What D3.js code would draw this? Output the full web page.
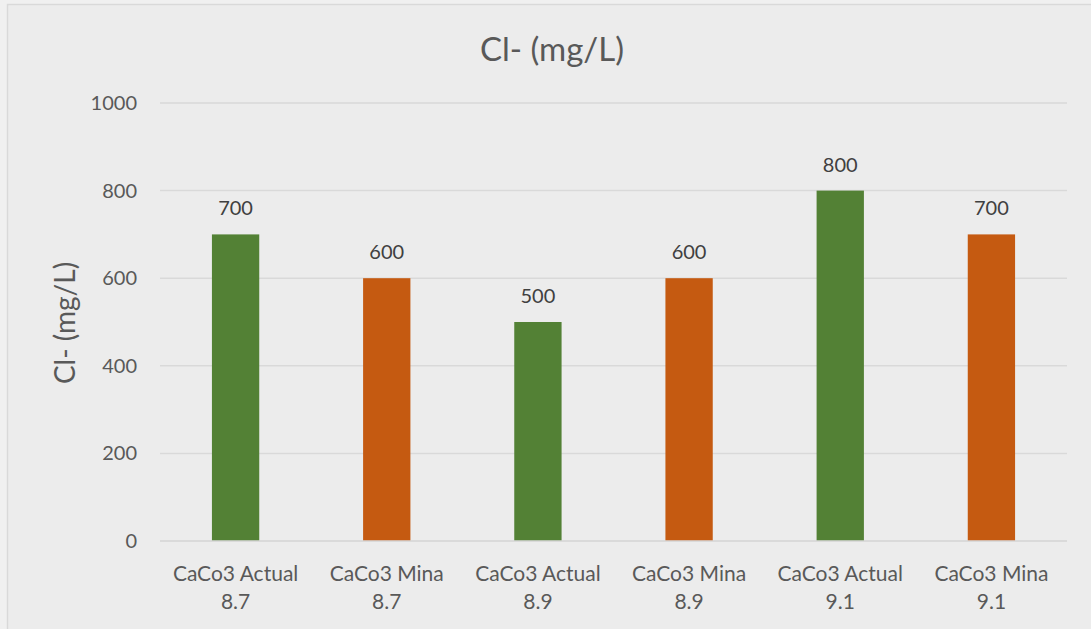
<!DOCTYPE html>
<html><head><meta charset="utf-8">
<script src="https://cdn.jsdelivr.net/npm/d3@7"></script>
<style>
html,body{margin:0;padding:0;background:#f0f0f0;}
svg{display:block;font-family:Lato,"Open Sans",sans-serif;}
</style></head>
<body>
<svg id="c" width="1091" height="629"></svg>
<script>
const categories = [["CaCo3 Actual","8.7"],["CaCo3 Mina","8.7"],["CaCo3 Actual","8.9"],["CaCo3 Mina","8.9"],["CaCo3 Actual","9.1"],["CaCo3 Mina","9.1"]];
const values = [700,600,500,600,800,700];
const seriesType = ["Actual","Mina","Actual","Mina","Actual","Mina"];
const yTicks = [0,200,400,600,800,1000];
const colors = {Actual:"#538135", Mina:"#c55a11"};

(function(){
const svg = d3.select("#c");
svg.append("rect").attr("x",7.5).attr("y",4.5).attr("width",1100).attr("height",640)
  .attr("fill","#ececec").attr("stroke","#d9d9d9").attr("stroke-width",1.5);

const pL=160, pR=1067, pT=103, pB=541;
const x = d3.scaleBand().domain(d3.range(values.length)).range([pL,pR])
  .paddingInner(0.687).paddingOuter(0.687/2);
const y = d3.scaleLinear().domain([0,1000]).range([pB,pT]);

svg.append("g").selectAll("line").data(yTicks).join("line")
  .attr("x1",pL).attr("x2",pR).attr("y1",d=>y(d)).attr("y2",d=>y(d))
  .attr("stroke","#d9d9d9").attr("stroke-width",1.5);

const yAxis = d3.axisLeft(y).tickValues(yTicks).tickSize(0).tickPadding(23).tickFormat(d3.format("d"));
const gy = svg.append("g").attr("transform",`translate(${pL},0)`).call(yAxis);
gy.select(".domain").remove();
gy.selectAll("text").attr("font-size",20).attr("fill","#595959").attr("font-family","Lato,'Open Sans',sans-serif");

svg.append("g").selectAll("rect").data(values).join("rect")
  .attr("x",(d,i)=>x(i)).attr("width",x.bandwidth())
  .attr("y",d=>y(d)).attr("height",d=>y(0)-y(d))
  .attr("fill",(d,i)=>colors[seriesType[i]]);

svg.append("g").selectAll("text").data(values).join("text")
  .attr("x",(d,i)=>x(i)+x.bandwidth()/2).attr("y",d=>y(d)-19)
  .attr("text-anchor","middle").attr("font-size",20).attr("fill","#404040")
  .text(d=>d);

const xl = svg.append("g").selectAll("text").data(categories).join("text")
  .attr("x",(d,i)=>x(i)+x.bandwidth()/2).attr("y",581)
  .attr("text-anchor","middle").attr("font-size",21).attr("fill","#595959");
xl.append("tspan").text(d=>d[0]);
xl.append("tspan").attr("x",(d,i)=>x(i)+x.bandwidth()/2).attr("dy",28).text(d=>d[1]);

svg.append("line").attr("x1",pL).attr("x2",pR).attr("y1",pB).attr("y2",pB)
  .attr("stroke","#d9d9d9").attr("stroke-width",1.5);

svg.append("text").attr("x",552).attr("y",61).attr("text-anchor","middle")
  .attr("font-size",33).attr("fill","#595959").text("Cl- (mg/L)");

svg.append("text").attr("transform","translate(75,323) rotate(-90)")
  .attr("text-anchor","middle").attr("font-size",28).attr("fill","#595959").text("Cl- (mg/L)");
})();
</script>
</body></html>
